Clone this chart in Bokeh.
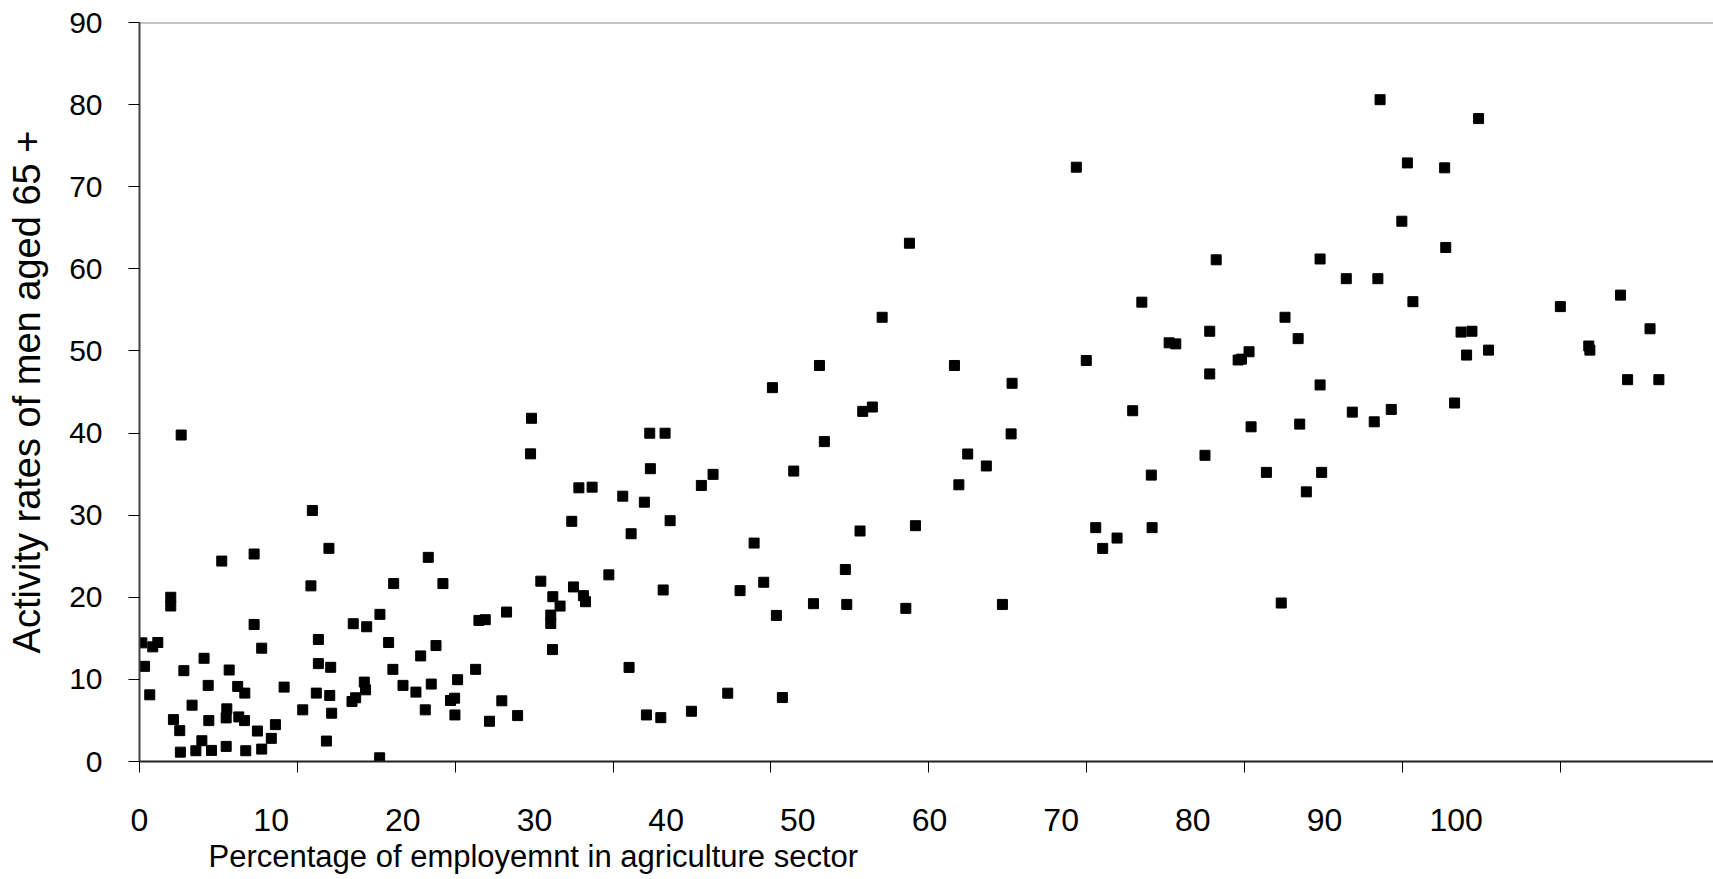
from bokeh.plotting import figure
from bokeh.models import LinearAxis, FixedTicker, Range1d, Title, CustomJSTickFormatter
from bokeh.embed import file_html
from bokeh.resources import INLINE

# Share of employment in agriculture (%) and activity rate of men aged 65+ (%)
agri_share = [
    2.64, 24.83, 24.77, 10.95, 12.00, 5.21, 7.26, 18.29, 10.86, 16.10,
    19.22, 25.42, 1.98, 1.98, 15.23, 13.54, 14.39, 7.26, 21.50, 21.90,
    23.25, 0.15, 0.84, 1.16, 11.33, 7.74, 15.78, 18.78, 17.81, 0.32,
    4.09, 2.81, 5.68, 11.33, 12.11, 16.05, 21.29, 20.15, 0.65, 4.35,
    6.22, 6.67, 9.16, 11.20, 12.05, 14.24, 14.32, 13.69, 13.46, 16.69,
    17.51, 18.48, 19.70, 19.96, 22.95, 3.33, 5.53, 5.49, 6.29, 6.65,
    10.34, 12.17, 18.10, 19.98, 22.17, 23.95, 2.15, 2.55, 4.39, 7.47,
    8.61, 8.35, 3.95, 2.59, 3.57, 4.56, 5.49, 6.73, 7.74, 11.84,
    15.21,
    40.09, 45.81, 46.42, 32.32, 33.29, 43.38, 32.36, 41.44, 36.33, 35.59,
    51.90, 27.83, 28.67, 30.61, 31.98, 27.38, 33.61, 31.14, 45.64, 49.15,
    38.93, 29.73, 27.49, 26.18, 28.12, 28.25, 26.64, 26.05, 26.05, 26.16,
    33.17, 38.04, 39.54, 44.71, 42.69, 44.80, 48.54, 40.34, 31.01, 37.26,
    40.72, 32.11, 33.02, 34.96,
    55.27, 74.78, 62.91, 76.82, 78.21, 70.41, 73.49, 55.21, 52.46, 53.64,
    67.49, 64.09, 71.38, 74.88, 73.91, 60.57, 64.14, 61.92, 61.01, 54.66,
    72.32, 79.29, 83.30, 94.26,
    48.77, 47.04, 43.07, 51.62,
    59.34, 59.97, 63.49, 65.22, 65.64, 67.79, 67.79, 68.20, 69.59, 69.80,
    70.28, 72.56, 73.39, 74.78, 76.44, 78.44, 78.58, 80.31, 79.96, 80.66,
    82.67, 82.74, 83.71, 84.40, 84.06, 84.82, 85.45, 90.00, 91.80, 91.87,
    93.81, 95.68, 96.24,
]
activity_65 = [
    39.76, 41.80, 37.47, 30.57, 25.96, 24.41, 25.27, 24.86, 21.39, 21.67,
    21.67, 21.96, 20.00, 18.94, 17.92, 16.78, 16.41, 16.69, 17.18, 17.27,
    18.20, 14.45, 13.96, 14.49, 14.86, 13.80, 14.49, 14.12, 12.86, 11.59,
    12.57, 11.06, 11.14, 11.92, 11.47, 11.22, 11.22, 9.96, 8.12, 9.27,
    9.14, 8.33, 9.06, 8.33, 8.04, 9.67, 8.73, 7.76, 7.31, 9.27,
    8.45, 9.43, 7.43, 7.71, 7.39, 6.86, 6.41, 5.31, 5.43, 4.98,
    6.29, 5.88, 6.29, 5.67, 4.90, 5.59, 5.10, 3.76, 4.98, 3.71,
    4.49, 2.82, 2.53, 1.14, 1.31, 1.35, 1.84, 1.31, 1.51, 2.49,
    0.45,
    45.53, 42.64, 43.17, 39.98, 39.98, 38.96, 35.66, 35.37, 34.97, 33.62,
    33.70, 33.33, 33.41, 32.31, 31.58, 29.25, 29.33, 27.74, 28.07, 28.72,
    26.60, 22.73, 21.26, 20.07, 20.20, 19.46, 18.93, 17.83, 16.81, 13.63,
    20.89, 20.81, 21.83, 23.38, 19.22, 19.13, 18.65, 17.79, 11.46, 8.32,
    7.79, 5.67, 5.34, 6.12,
    46.06, 45.86, 42.72, 42.55, 41.37, 40.76, 41.09, 39.90, 37.45, 35.99,
    37.29, 34.88, 35.21, 35.21, 32.84, 28.48, 28.48, 27.21, 25.95, 19.13,
    19.30, 42.88, 43.66, 46.50,
    63.12, 54.10, 48.23, 48.23,
    72.38, 48.84, 55.94, 50.99, 50.86, 52.40, 47.20, 61.10, 48.90, 49.00,
    49.90, 54.10, 51.50, 61.20, 58.80, 58.80, 80.60, 72.90, 65.80, 56.00,
    72.30, 62.60, 52.30, 52.40, 49.50, 78.30, 50.10, 55.40, 50.60, 50.10,
    56.80, 52.70, 46.50,
]

# Tick marks every 10 points; the printed labels run at their own spacing
tick_positions = [0, 10, 20, 30, 40, 50, 60, 70, 80, 90]
label_step = 8.34
label_texts = ["0", "10", "20", "30", "40", "50", "60", "70", "80", "90", "100"]
y_ticks = [0, 10, 20, 30, 40, 50, 60, 70, 80, 90]

FONT = "Liberation Sans"

p = figure(width=1713, height=879, output_backend="svg", toolbar_location=None,
           x_range=Range1d(0, 99.7), y_range=Range1d(0, 90),
           x_axis_location=None, y_axis_location=None,
           min_border_left=139, min_border_right=0, min_border_top=22,
           min_border_bottom=118)
p.background_fill_color = "white"
p.border_fill_color = "white"
p.grid.visible = False
p.outline_line_color = None

# top border of the plotting area
p.segment(x0=[0], y0=[90], x1=[99.7], y1=[90], line_color="#8c8c8c", line_width=2)

# y axis
yax = LinearAxis(ticker=FixedTicker(ticks=y_ticks), axis_line_color="#404040",
                 axis_line_width=2, major_tick_line_color="black",
                 major_tick_in=0, major_tick_out=11, minor_tick_line_color=None,
                 major_label_text_font=FONT, major_label_text_font_size="30px",
                 major_label_text_color="black", major_label_standoff=26,
                 axis_label="Activity rates of men aged 65 +",
                 axis_label_text_font=FONT, axis_label_text_font_size="38px",
                 axis_label_text_color="black",
                 axis_label_text_font_style="normal", axis_label_standoff=18)
p.add_layout(yax, "left")

# x axis with tick marks only
xax = LinearAxis(ticker=FixedTicker(ticks=tick_positions), axis_line_color="#202020",
                 axis_line_width=2, major_tick_line_color="black",
                 major_tick_in=0, major_tick_out=11, minor_tick_line_color=None,
                 formatter=CustomJSTickFormatter(code="return ''"),
                 major_label_standoff=0)
p.add_layout(xax, "below")

# x labels at their own positions
label_pos = [i * label_step for i in range(len(label_texts))]
xlab = LinearAxis(ticker=FixedTicker(ticks=label_pos),
                  major_label_overrides={pos: t for pos, t in zip(label_pos, label_texts)},
                  axis_line_color=None, major_tick_line_color=None, minor_tick_line_color=None,
                  major_tick_in=0, major_tick_out=0,
                  major_label_text_font=FONT, major_label_text_font_size="32px",
                  major_label_text_color="black", major_label_standoff=36)
p.add_layout(xlab, "below")

p.add_layout(Title(text="Percentage of employemnt in agriculture sector", align="left",
                   offset=69, text_font=FONT, text_font_size="31px",
                   text_font_style="normal", text_color="black", standoff=7), "below")

p.scatter(agri_share, activity_65, marker="square", size=10, fill_color="black",
          line_color="black")

open("out.html", "w").write(file_html(p, INLINE))
